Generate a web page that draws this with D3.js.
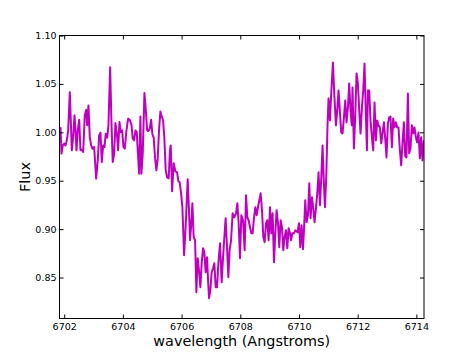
<!DOCTYPE html>
<html>
<head>
<meta charset="utf-8">
<script src="https://cdn.jsdelivr.net/npm/d3@7"></script>
<style>
  html, body { margin: 0; padding: 0; background: #fff; }
  svg { display: block; }
  text { font-family: "DejaVu Sans", sans-serif; fill: #000; }
</style>
</head>
<body>
<svg id="chart" width="471" height="355"></svg>
<script>
const wavelength = [
6701.874,6701.908,6701.952,6702.000,6702.044,6702.089,6702.136,6702.191,6702.225,6702.259,
6702.306,6702.351,6702.385,6702.419,6702.463,6702.511,6702.555,6702.599,6702.647,6702.701,
6702.749,6702.783,6702.827,6702.871,6702.919,6702.963,6703.021,6703.089,6703.144,6703.191,
6703.236,6703.280,6703.328,6703.372,6703.416,6703.464,6703.508,6703.566,6703.610,6703.654,
6703.702,6703.746,6703.791,6703.838,6703.883,6703.927,6703.974,6704.019,6704.063,6704.121,
6704.179,6704.233,6704.291,6704.335,6704.383,6704.427,6704.472,6704.519,6704.553,6704.597,
6704.631,6704.676,6704.734,6704.778,6704.826,6704.870,6704.914,6704.962,6705.006,6705.050,
6705.098,6705.142,6705.186,6705.234,6705.278,6705.323,6705.370,6705.414,6705.459,6705.506,
6705.561,6705.602,6705.629,6705.677,6705.731,6705.789,6705.847,6705.891,6705.935,6705.983,
6706.027,6706.085,6706.140,6706.208,6706.248,6706.289,6706.334,6706.368,6706.412,6706.460,
6706.504,6706.548,6706.596,6706.640,6706.684,6706.732,6706.776,6706.820,6706.868,6706.902,
6706.936,6706.980,6707.025,6707.072,6707.117,6707.161,6707.208,6707.253,6707.311,6707.365,
6707.413,6707.457,6707.501,6707.549,6707.593,6707.637,6707.685,6707.740,6707.797,6707.855,
6707.900,6707.944,6707.991,6708.036,6708.094,6708.148,6708.196,6708.240,6708.284,6708.332,
6708.376,6708.420,6708.468,6708.512,6708.557,6708.604,6708.649,6708.693,6708.740,6708.785,
6708.829,6708.877,6708.921,6708.965,6709.013,6709.057,6709.101,6709.149,6709.193,6709.238,
6709.285,6709.329,6709.374,6709.421,6709.465,6709.510,6709.557,6709.602,6709.646,6709.694,
6709.728,6709.772,6709.830,6709.874,6709.952,6710.000,6710.044,6710.089,6710.136,6710.170,
6710.214,6710.259,6710.306,6710.351,6710.395,6710.443,6710.487,6710.531,6710.579,6710.623,
6710.667,6710.715,6710.759,6710.803,6710.844,6710.885,6710.929,6710.974,6711.008,6711.055,
6711.099,6711.157,6711.202,6711.259,6711.304,6711.348,6711.396,6711.440,6711.484,6711.532,
6711.576,6711.620,6711.668,6711.712,6711.756,6711.797,6711.824,6711.872,6711.916,6711.961,
6712.008,6712.053,6712.097,6712.145,6712.189,6712.233,6712.281,6712.315,6712.349,6712.393,
6712.437,6712.485,6712.529,6712.574,6712.621,6712.666,6712.710,6712.757,6712.802,6712.846,
6712.894,6712.938,6712.982,6713.030,6713.074,6713.118,6713.166,6713.210,6713.254,6713.302,
6713.346,6713.391,6713.438,6713.483,6713.527,6713.574,6713.619,6713.663,6713.711,6713.755,
6713.799,6713.847,6713.891,6713.935,6713.983,6714.027,6714.072,6714.119,6714.163,6714.208,
6714.255
];
const flux = [
1.0054,0.9780,0.9865,0.9883,0.9865,0.9917,1.0020,1.0415,1.0123,0.9814,
0.9951,1.0175,1.0020,0.9814,1.0020,1.0130,0.9814,0.9821,0.9796,1.0175,
1.0234,1.0072,1.0278,0.9951,0.9865,0.9831,0.9848,0.9522,0.9710,0.9968,
0.9996,0.9693,0.9865,0.9848,0.9986,0.9945,1.0072,1.0673,1.0106,0.9693,
0.9780,1.0095,1.0002,0.9814,1.0106,1.0002,1.0020,0.9848,0.9831,1.0020,
1.0141,1.0130,1.0082,0.9934,0.9917,1.0020,1.0002,0.9745,0.9573,1.0164,
0.9573,0.9780,1.0405,1.0244,1.0020,1.0013,1.0038,1.0130,0.9979,0.9945,
0.9728,0.9607,0.9728,1.0038,1.0216,1.0164,1.0123,0.9934,0.9607,0.9535,
0.9525,0.9814,0.9865,0.9391,0.9680,0.9597,0.9587,0.9494,0.9484,0.9370,
0.9226,0.8730,0.9040,0.9514,0.9226,0.8885,0.9071,0.9267,0.8916,0.8885,
0.8349,0.8700,0.8565,0.8400,0.8648,0.8803,0.8761,0.8555,0.8710,0.8473,
0.8287,0.8369,0.8555,0.8596,0.8648,0.8400,0.8400,0.8648,0.8854,0.8452,
0.8710,0.8916,0.9112,0.8813,0.8504,0.8782,0.8885,0.9164,0.9122,0.9164,
0.9267,0.9061,0.8700,0.9143,0.9092,0.8782,0.9349,0.9122,0.9092,0.9019,
0.8957,0.8957,0.9122,0.9226,0.9143,0.9226,0.9298,0.9370,0.9195,0.8916,
0.8865,0.9061,0.9092,0.8885,0.9226,0.8957,0.9164,0.8658,0.8957,0.9195,
0.9061,0.8813,0.9092,0.9019,0.8782,0.8916,0.8988,0.8803,0.9009,0.8957,
0.8885,0.8957,0.8957,0.8988,0.8968,0.9061,0.8813,0.9040,0.8792,0.8988,
0.9298,0.9071,0.9143,0.9473,0.9112,0.9329,0.9215,0.9071,0.9215,0.9370,
0.9587,0.9246,0.9525,0.9865,0.9504,0.9226,0.9535,1.0092,1.0350,1.0123,
1.0402,1.0721,1.0402,1.0072,1.0226,1.0433,1.0206,0.9999,0.9989,1.0154,
1.0329,1.0103,1.0257,1.0505,1.0226,1.0072,1.0464,0.9834,1.0154,1.0608,
1.0505,1.0226,0.9989,1.0257,1.0433,1.0711,1.0154,0.9814,1.0433,1.0433,
1.0123,0.9948,0.9814,1.0309,0.9917,1.0123,1.0072,1.0051,0.9886,0.9989,
1.0103,0.9937,0.9741,1.0092,1.0154,1.0164,0.9845,1.0144,1.0051,1.0103,
1.0051,1.0051,0.9814,0.9659,0.9886,1.0103,0.9752,0.9741,1.0402,0.9783,
0.9834,1.0072,0.9989,1.0051,0.9948,0.9896,0.9999,0.9731,0.9948,0.9710,
0.9917
];
const xTicks = [6702, 6704, 6706, 6708, 6710, 6712, 6714];
const yTicks = [0.85, 0.90, 0.95, 1.00, 1.05, 1.10];
const xLabel = "wavelength (Angstroms)";
const yLabel = "Flux";

const svg = d3.select("#chart");
const L = 59.5, R = 424, T = 35.5, B = 318.5;

const x = d3.scaleLinear().domain([6701.84, 6714.26]).range([L, R]);
const y = d3.scaleLinear().domain([0.8077, 1.10]).range([B, T]);

svg.append("defs").append("clipPath").attr("id", "clip")
  .append("rect").attr("x", L).attr("y", T).attr("width", R - L).attr("height", B - T);

const pts = wavelength.map((w, i) => [w, flux[i]]);
svg.append("path")
  .datum(pts)
  .attr("clip-path", "url(#clip)")
  .attr("fill", "none")
  .attr("stroke", "#bf00bf")
  .attr("stroke-width", 2)
  .attr("stroke-linejoin", "round")
  .attr("d", d3.line().x(d => x(d[0])).y(d => y(d[1])));

function styleAxis(g) {
  g.select(".domain").remove();
  g.selectAll(".tick line").attr("stroke", "#000").attr("stroke-width", 1);
  g.selectAll("text").style("font-family", "DejaVu Sans").style("font-size", "9.5px").attr("fill", "#000");
}

svg.append("g").attr("transform", `translate(0,${B})`)
  .call(d3.axisBottom(x).tickValues(xTicks).tickFormat(d3.format("d")).tickSize(-4).tickPadding(4.5))
  .call(styleAxis);
svg.append("g").attr("transform", `translate(0,${T})`)
  .call(d3.axisTop(x).tickValues(xTicks).tickFormat("").tickSize(-4))
  .call(styleAxis);
svg.append("g").attr("transform", `translate(${L},0)`)
  .call(d3.axisLeft(y).tickValues(yTicks).tickFormat(d3.format(".2f")).tickSize(-4).tickPadding(3))
  .call(styleAxis);
svg.append("g").attr("transform", `translate(${R},0)`)
  .call(d3.axisRight(y).tickValues(yTicks).tickFormat("").tickSize(-4))
  .call(styleAxis);

svg.append("rect")
  .attr("x", L).attr("y", T).attr("width", R - L).attr("height", B - T)
  .attr("fill", "none").attr("stroke", "#000").attr("stroke-width", 1);

svg.append("text")
  .attr("x", (L + R) / 2).attr("y", 346)
  .attr("text-anchor", "middle")
  .style("font-size", "14.4px")
  .text(xLabel);

svg.append("text")
  .attr("transform", `translate(30,${(T + B) / 2}) rotate(-90)`)
  .attr("text-anchor", "middle")
  .style("font-size", "14.4px")
  .text(yLabel);
</script>
</body>
</html>
